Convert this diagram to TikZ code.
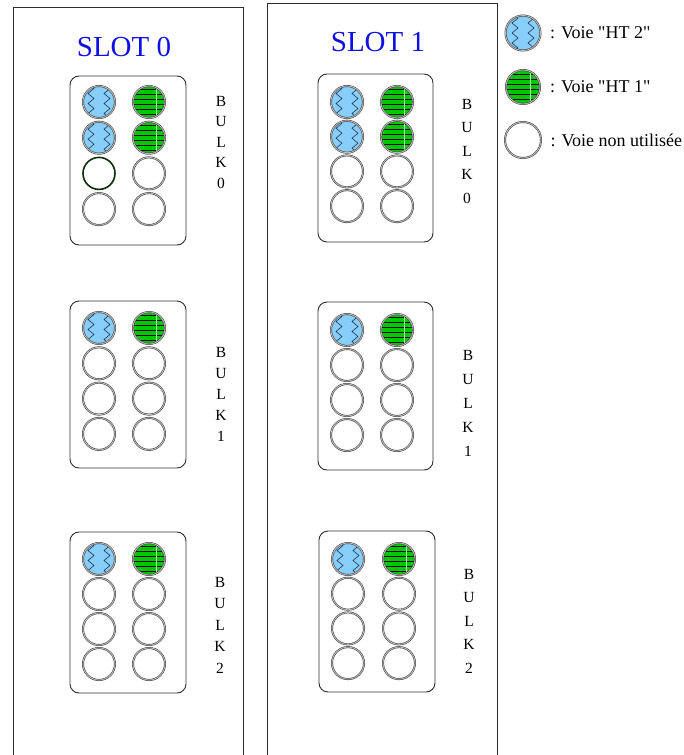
\documentclass[tikz,border=0pt]{standalone}
\usepackage{fontspec}
\setmainfont{Liberation Serif}[Ligatures=TeXOff]
\usetikzlibrary{positioning,decorations.pathmorphing}
\definecolor{ht2blue}{RGB}{135,206,250}
\definecolor{ht2line}{RGB}{35,55,85}
\definecolor{ht1green}{RGB}{0,200,0}
\definecolor{ht1light}{RGB}{170,235,170}
\definecolor{slotblue}{RGB}{15,15,230}
\definecolor{edgegray}{RGB}{45,45,45}
\definecolor{darkrim}{RGB}{10,45,10}
\tikzset{
  slotframe/.style={draw=edgegray,line width=1pt},
  slottitle/.style={text=slotblue,font=\fontsize{29}{32}\selectfont,inner sep=0pt},
  bulkbox/.style={draw=edgegray,line width=0.9pt,rounded corners=9pt},
  bulkname/.style={align=center,inner sep=0pt,font=\fontsize{15.5}{#1}\selectfont},
  legendtext/.style={anchor=west,inner sep=0pt,font=\fontsize{18}{20}\selectfont},
  voie/.style={circle,minimum size=32pt,inner sep=0pt,draw=black!70,line width=0.6pt,double=black!25,double distance=0.8pt},
  voielibre/.style={voie},
  voiebordee/.style={circle,minimum size=32pt,inner sep=0pt,draw=darkrim,line width=1.6pt},
  voieht2/.style={voie,fill=ht2blue,path picture={
      \foreach \dx in {-8,8}
        \draw[ht2line,line width=0.6pt,decorate,decoration={zigzag,segment length=10pt,amplitude=3pt}]
          ([xshift=\dx pt]path picture bounding box.north) -- ([xshift=\dx pt]path picture bounding box.south);}},
  voieht1/.style={voie,fill=ht1green,path picture={
      \foreach \dy in {-12.5,-7.5,...,12.5}
        \draw[black,line width=1.2pt]
          ([yshift=\dy pt]path picture bounding box.west) -- ([yshift=\dy pt]path picture bounding box.east);
      \draw[ht1light,line width=0.4pt]
        ([xshift=7pt]path picture bounding box.north) -- ([xshift=7pt]path picture bounding box.south);}}
}

\begin{document}
\begin{tikzpicture}[x=1pt,y=-1pt]
  \useasboundingbox (0,0) rectangle (683,755);
  % slots
  \draw[slotframe] (13,755) |- (243,7) -- (243,755);
  \draw[slotframe] (267,755) |- (497,3) -- (497,755);
  \node[slottitle] (slot0) at (124,47) {SLOT 0};
  \node[slottitle] (slot1) at (378,42) {SLOT 1};
  % bulk boxes
  \foreach \xa/\ya/\xb/\yb in {70/76/186/245, 70/301/186/468, 70/532/186/693,
                               318/74/433/242, 318/302/433/470, 319/531/435/692}
    \draw[bulkbox] (\xa,\ya) rectangle (\xb,\yb);
  % channels
  \foreach \nm/\xa/\xb/\ya/\dy/\nht/\spec in {s0b0/99/149/102/35.7/2/voiebordee,
      s0b1/99/149/328/35.3/1/voielibre, s0b2/99/149/559/35/1/voielibre,
      s1b0/347/397/102/34.7/2/voielibre, s1b1/347/397/330/35/1/voielibre,
      s1b2/348/399/559/34.7/1/voielibre}
    \foreach \rw in {1,...,4}{
      \pgfmathsetmacro\yy{\ya+(\rw-1)*\dy}
      \ifnum\rw>\nht
        \ifnum\rw=3 \edef\gst{\spec}\else\def\gst{voielibre}\fi
        \node[\gst] (\nm-\rw-1) at (\xa,\yy) {};
        \node[voielibre] (\nm-\rw-2) at (\xb,\yy) {};
      \else
        \node[voieht2] (\nm-\rw-1) at (\xa,\yy) {};
        \node[voieht1] (\nm-\rw-2) at (\xb,\yy) {};
      \fi
    }
  % bulk names
  \foreach \nm/\x/\y/\lsep/\bk in {s0b0/221/142/20.5/0, s0b1/221/394/21/1,
      s0b2/220/625/21.5/2, s1b0/467/151/23.5/0, s1b1/468/403.5/24.2/1,
      s1b2/469/621/23.5/2}
    \node[bulkname=\lsep] (\nm-name) at (\x,\y) {B\\U\\L\\K\\\bk};
  % legend
  \node[voieht2,minimum size=35pt] (leg-ht2) at (523,33) {};
  \node[voieht1,minimum size=34pt] (leg-ht1) at (523,87) {};
  \node[voielibre,minimum size=36pt] (leg-libre) at (523,140) {};
  \node[legendtext,right=9pt of leg-ht2] (leg-ht2-text) {: Voie "HT 2"};
  \node[legendtext,right=9.5pt of leg-ht1] (leg-ht1-text) {: Voie "HT 1"};
  \node[legendtext,right=9pt of leg-libre] (leg-libre-text) {: Voie non utilisée};
\end{tikzpicture}
\end{document}
